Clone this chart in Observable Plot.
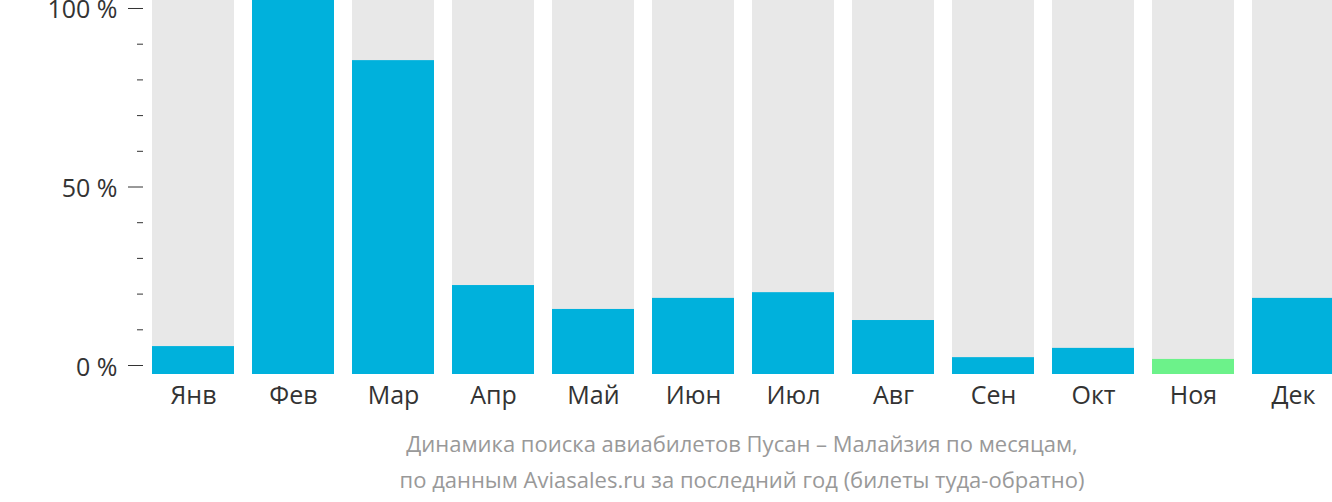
<!DOCTYPE html>
<html>
<head>
<meta charset="utf-8">
<script src="https://cdn.jsdelivr.net/npm/d3@7"></script>
<script src="https://cdn.jsdelivr.net/npm/@observablehq/plot@0.6"></script>
<style>
  html, body { margin: 0; padding: 0; background: #fff; overflow: hidden; }
  body { width: 1332px; height: 502px; font-family: "Open Sans", sans-serif; }
  #chart { width: 1332px; height: 420px; overflow: hidden; }
  #chart svg { display: block; overflow: visible; max-width: none !important; }
  .caption { text-align: center; color: #999; font-size: 22px; line-height: 36px; font-family: "Open Sans", sans-serif; margin-left: 152px; width: 1180px; margin-top: 5px; }
</style>
</head>
<body>
<div id="chart"></div>
<div class="caption">Динамика поиска авиабилетов Пусан – Малайзия по месяцам,<br>по данным Aviasales.ru за последний год (билеты туда-обратно)</div>
<script>
const months = ["Янв","Фев","Мар","Апр","Май","Июн","Июл","Авг","Сен","Окт","Ноя","Дек"];
const values = [5.3, 102.24, 85.4, 22.4, 15.7, 18.8, 20.4, 12.6, 2.2, 4.8, 1.7, 18.8];
const highlight = ["Ноя"];
const majorTicks = [0, 50, 100];
const minorTicks = [10, 20, 30, 40, 60, 70, 80, 90];
const yMin = -2.52, yMax = 102.24;

const data = months.map((m, i) => ({month: m, value: values[i], low: highlight.includes(m)}));

const chart = Plot.plot({
  width: 1343,
  height: 420,
  marginLeft: 143,
  marginRight: 0,
  marginTop: 0,
  marginBottom: 46,
  style: {fontFamily: "Open Sans, sans-serif", background: "transparent", maxWidth: "none"},
  x: {domain: months, paddingInner: 0.18, paddingOuter: 0.09, label: null},
  y: {domain: [yMin, yMax], label: null},
  marks: [
    Plot.barY(data, {x: "month", y1: yMin, y2: yMax, fill: "#e8e8e8"}),
    Plot.barY(data, {x: "month", y1: yMin, y2: "value", fill: d => d.low ? "#6cf28a" : "#00b1dc"}),
    Plot.axisX({tickSize: 0, tickPadding: 12, fontSize: 25, color: "#333", label: null}),
    Plot.axisY({ticks: majorTicks, tickSize: 15, tickWidth: 2, tickFormat: () => "", color: "#333", label: null}),
    Plot.axisY({ticks: majorTicks, tickSize: 0, tickPadding: 26, fontSize: 25, color: "#333", tickFormat: d => d + " %", label: null, dy: 2}),
    Plot.axisY({ticks: minorTicks, tickSize: 6, tickWidth: 2, tickFormat: () => "", color: "#333", label: null})
  ]
});
document.getElementById("chart").appendChild(chart);
</script>
</body>
</html>
